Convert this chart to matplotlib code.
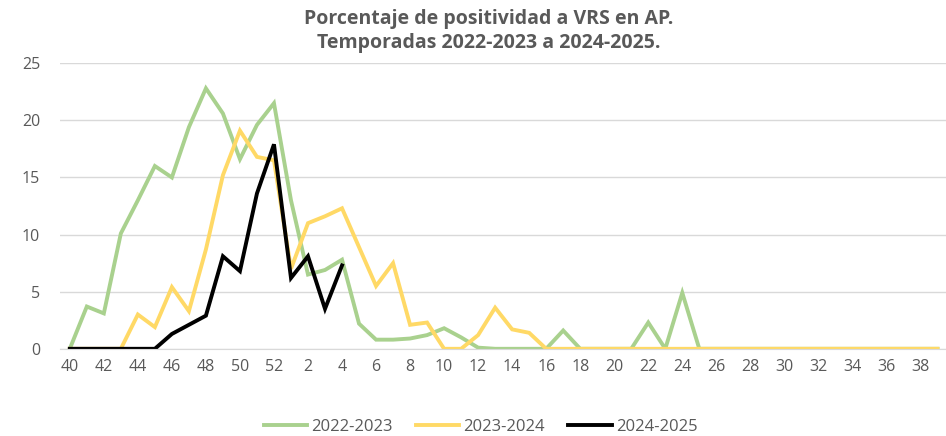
import matplotlib
matplotlib.use("Agg")
import matplotlib.pyplot as plt
import numpy as np

weeks = list(range(40, 53)) + list(range(1, 40))
tick_labels = [str(w) for w in weeks]

s2022 = [0, 3.7, 3.1, 10.1, 13.0, 16.0, 15.0, 19.4, 22.8, 20.6, 16.6, 19.6, 21.5,
         13.0, 6.5, 6.9, 7.8, 2.2, 0.8, 0.8, 0.9, 1.2, 1.8, 1.0, 0.1, 0, 0, 0, 0,
         1.6, 0, 0, 0, 0, 2.3, 0, 4.9, 0, 0, 0, 0, 0, 0, 0, 0, 0, 0, 0, 0, 0, 0, 0]
s2023 = [0, 0, 0, 0, 3.0, 1.9, 5.4, 3.3, 8.7, 15.2, 19.1, 16.8, 16.5,
         7.0, 11.0, 11.6, 12.3, 8.9, 5.5, 7.5, 2.1, 2.3, 0, 0, 1.2, 3.6, 1.7, 1.4, 0,
         0, 0, 0, 0, 0, 0, 0, 0, 0, 0, 0, 0, 0, 0, 0, 0, 0, 0, 0, 0, 0, 0, 0]
s2024 = [0, 0, 0, 0, 0, 0, 1.3, 2.1, 2.9, 8.1, 6.8, 13.6, 17.9,
         6.2, 8.1, 3.5, 7.3]

series_names = ["2022-2023", "2023-2024", "2024-2025"]
colors = ["#A9D18E", "#FFD966", "#000000"]

plt.rcParams['font.family'] = ['Open Sans', 'DejaVu Sans']

fig = plt.figure(figsize=(9.46, 4.36), dpi=100)
ax = fig.add_axes([0.063, 0.2, 0.937, 0.655])

x = np.arange(len(weeks))
for vals, name, c in zip([s2022, s2023, s2024], series_names, colors):
    ax.plot(x[:len(vals)], vals, color=c, lw=2.8, label=name, solid_joinstyle='miter')

ax.set_ylim(0, 25)
ax.set_yticks([0, 5, 10, 15, 20, 25])
ax.set_xlim(-0.6, 51.5)
ax.set_xticks(x[::2])
ax.set_xticklabels(tick_labels[::2])
ax.grid(axis='y', color='#D9D9D9', lw=1)
ax.set_axisbelow(True)
for s in ['top', 'right', 'left']:
    ax.spines[s].set_visible(False)
ax.spines['bottom'].set_color('#D9D9D9')
ax.tick_params(axis='both', length=0, labelsize=11.5, labelcolor='#595959', pad=7)
ax.tick_params(axis='y', pad=14)

fig.text(0.517, 0.98, "Porcentaje de positividad a VRS en AP.\nTemporadas 2022-2023 a 2024-2025.",
         ha='center', va='top', fontsize=14, fontweight='bold', color='#595959',
         linespacing=1.3)

leg = fig.legend(loc='center', ncol=3, bbox_to_anchor=(0.508, 0.02),
                 frameon=False, fontsize=12, handlelength=2.6, columnspacing=1.4,
                 handletextpad=0.25)
for t in leg.get_texts():
    t.set_color('#595959')

fig.savefig("out.png", dpi=100)
